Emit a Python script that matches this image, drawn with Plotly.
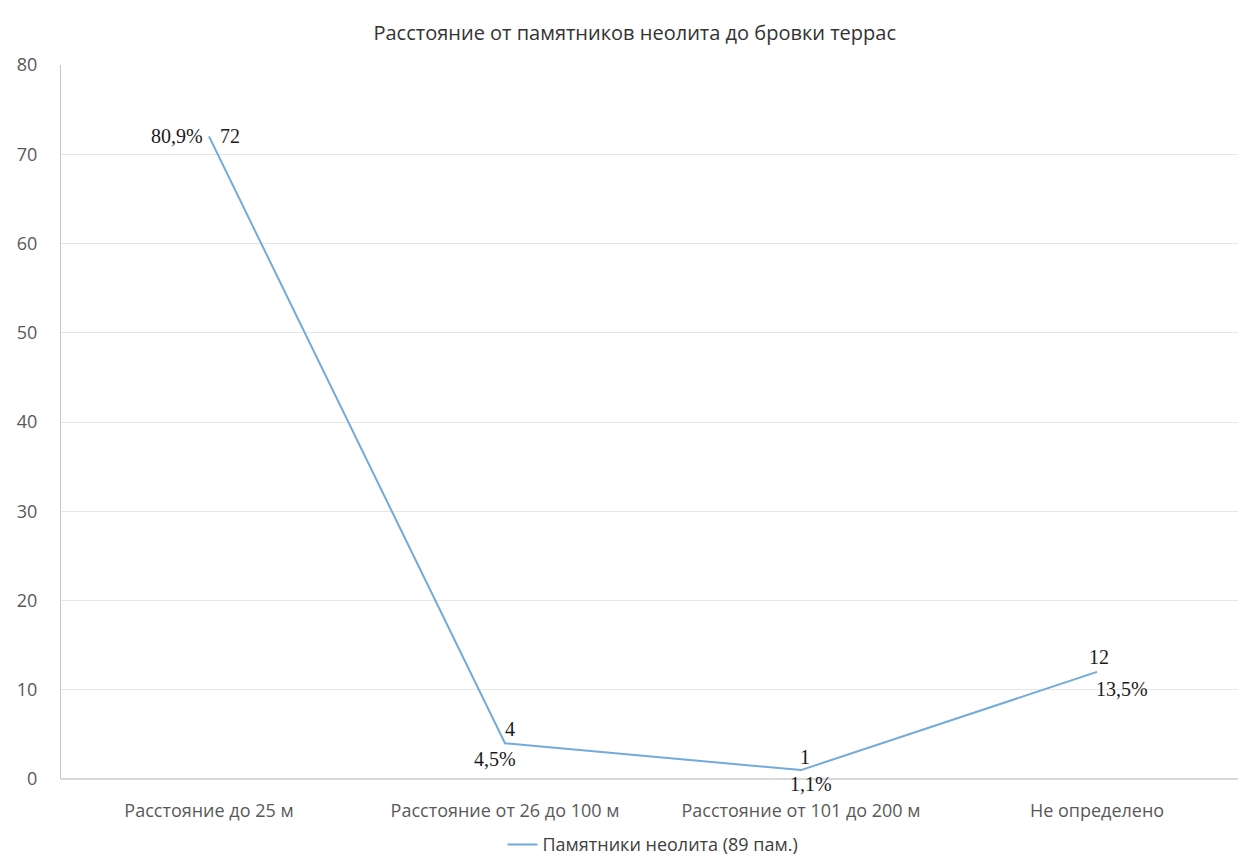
import plotly.graph_objects as go

categories = ["Расстояние до 25 м", "Расстояние от 26 до 100 м",
              "Расстояние от 101 до 200 м", "Не определено"]
values = [72, 4, 1, 12]
percents = ["80,9%", "4,5%", "1,1%", "13,5%"]
series_name = "Памятники неолита (89 пам.)"
title_text = "Расстояние от памятников неолита до бровки террас"
y_ticks = [0, 10, 20, 30, 40, 50, 60, 70, 80]

line_color = "#72aadb"
label_font = dict(family="Liberation Serif, Times New Roman, serif", size=20, color="#1a1a1a")
sans = "Open Sans, Noto Sans, sans-serif"

fig = go.Figure()
fig.add_trace(go.Scatter(
    x=categories, y=values, mode="lines", name=series_name,
    line=dict(color=line_color, width=2),
))

# label offsets per point: (xanchor, xshift, yshift)
val_pos = [("left", 9, 0), ("center", 5, 14), ("center", 4, 13), ("center", 2, 15)]
pct_pos = [("right", -4, 0), ("center", -10, -16), ("center", 10, -14), ("center", 25, -17)]
for i, (c, v, p) in enumerate(zip(categories, values, percents)):
    xa, xs, ys = val_pos[i]
    fig.add_annotation(x=c, y=v, text=str(v), showarrow=False, xanchor=xa,
                       xshift=xs, yshift=ys, font=label_font)
    xa, xs, ys = pct_pos[i]
    fig.add_annotation(x=c, y=v, text=p, showarrow=False, xanchor=xa,
                       xshift=xs, yshift=ys, font=label_font)

fig.update_layout(
    width=1246, height=864,
    paper_bgcolor="white", plot_bgcolor="white",
    margin=dict(l=53, r=9, t=57, b=79),
    title=dict(text=title_text, x=0.503, xanchor="center", y=0.971, yanchor="middle",
               font=dict(family=sans, size=20, color="#333333")),
    font=dict(family=sans, size=17, color="#595959"),
    showlegend=True,
    legend=dict(orientation="h", x=0.5, xanchor="center", y=-0.092, yanchor="middle",
                font=dict(size=18, color="#404040"), itemwidth=30),
    xaxis=dict(type="category", range=[-0.5, 3.5], showgrid=False, showline=False,
               ticks="", tickfont=dict(size=18, color="#595959"), ticklabelstandoff=19,
               automargin=False),
    yaxis=dict(range=[0, 80], tickvals=y_ticks, showgrid=True, gridcolor="#e6e6e6",
               gridwidth=1, zeroline=True, zerolinecolor="#d9d9d9", showline=True,
               linecolor="#c8c8c8", linewidth=1, ticks="",
               tickfont=dict(size=18, color="#595959"), ticklabelstandoff=19,
               automargin=False),
)

fig.write_html("out.html")
